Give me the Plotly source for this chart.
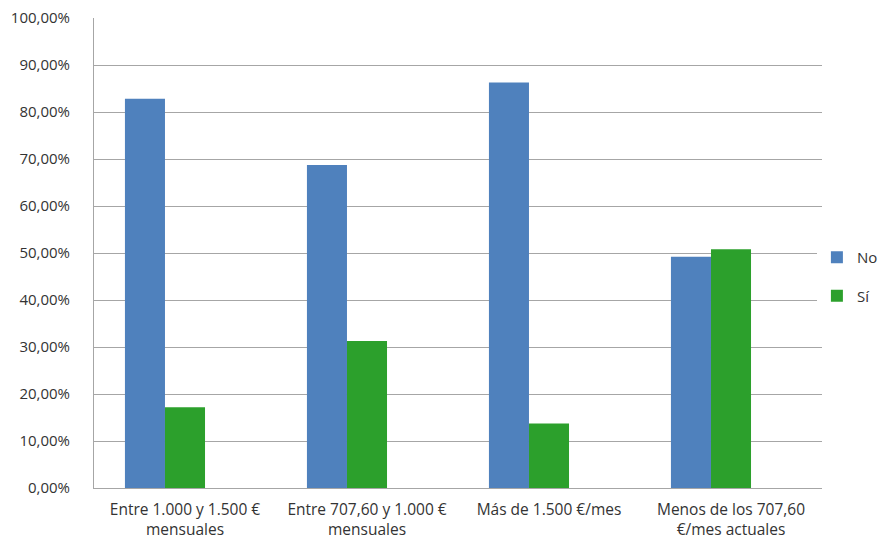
import plotly.graph_objects as go

categories = [
    "Entre 1.000 y 1.500 €<br>mensuales",
    "Entre 707,60 y 1.000 €<br>mensuales",
    "Más de 1.500 €/mes",
    "Menos de los 707,60<br>€/mes actuales",
]
no_values = [0.828, 0.687, 0.863, 0.492]
si_values = [0.172, 0.313, 0.137, 0.508]
y_ticks = [i / 10 for i in range(11)]

font_family = "Open Sans, Liberation Sans, Arial, sans-serif"
grid_color = "#a6a6a6"
text_color = "#333333"

fig = go.Figure()
fig.add_trace(go.Bar(
    x=categories, y=no_values, name="No",
    marker=dict(color="#4f81bd", line=dict(width=0)),
    width=0.22, offset=-0.33,
    legendgroup="no",
))
fig.add_trace(go.Bar(
    x=categories, y=si_values, name="Sí",
    marker=dict(color="#2ca02c", line=dict(width=0)),
    width=0.22, offset=-0.11,
    legendgroup="si",
))

fig.update_layout(
    width=889, height=542,
    margin=dict(l=94, r=67, t=18, b=54, autoexpand=False),
    paper_bgcolor="white", plot_bgcolor="white",
    separators=",.",
    font=dict(family=font_family, size=15, color=text_color),
    showlegend=True,
    legend=dict(
        x=0.993, xanchor="left", y=0.45, yanchor="middle",
        traceorder="grouped", tracegroupgap=16,
        font=dict(size=15, color=text_color),
        itemwidth=30,
    ),
    bargap=0.34,
)
fig.update_xaxes(
    showgrid=False,
    showline=True, linecolor=grid_color, linewidth=1,
    ticks="", tickfont=dict(size=15.5), ticklabelstandoff=7,
    range=[-0.5, 3.5], automargin=False,
)
fig.update_yaxes(
    range=[0, 1.0],
    tickvals=y_ticks, tickformat=".2%",
    showgrid=True, gridcolor=grid_color, gridwidth=1,
    showline=True, linecolor=grid_color, linewidth=1,
    ticks="", tickfont=dict(size=15), ticklabelstandoff=20,
    zeroline=False, automargin=False,
)

fig.write_html(
    "out.html",
    config={"displayModeBar": False},
    post_script="document.body.style.margin='0';document.body.style.overflow='hidden';",
)
